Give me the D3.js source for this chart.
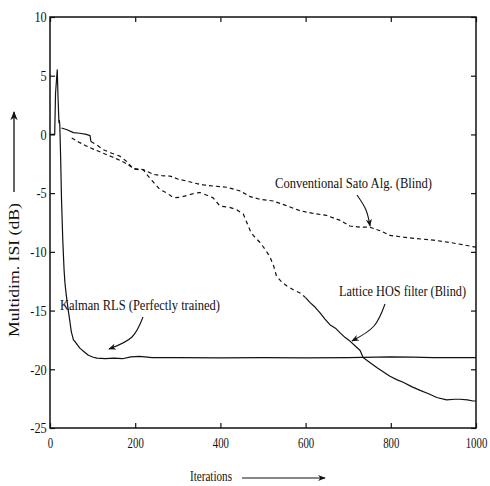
<!DOCTYPE html>
<html>
<head>
<meta charset="utf-8">
<script src="https://cdn.jsdelivr.net/npm/d3@7"></script>
<style>
  html, body { margin: 0; padding: 0; background: #fff; }
  svg { display: block; }
  text { font-family: "Liberation Serif", "DejaVu Serif", serif; fill: #111; }
</style>
</head>
<body>
<svg id="chart" width="490" height="486"></svg>
<script>
// Iteration ticks and ISI ticks (dB)
const xTicks = [0, 200, 400, 600, 800, 1000];
const yTicks = [10, 5, 0, -5, -10, -15, -20, -25];

// Kalman RLS (perfectly trained): [iteration, ISI dB]
const kalman = [
  [0, 0], [11, 0], [13, 3.5], [17, 5.5], [19, 3], [21, 1], [22, 1.2], [23, 0.8],
  [25, -2], [27, -5.5], [30, -9], [33, -11.5], [35, -12.6], [37, -13.3], [40, -14.2],
  [43, -15], [47, -16], [50, -16.8], [55, -17.5], [60, -17.7], [70, -18.2], [80, -18.5],
  [90, -18.8], [100, -18.95], [110, -19.05], [130, -19.1], [150, -19.05], [170, -19.1],
  [190, -18.95], [210, -18.9], [240, -19.0], [300, -19.0], [400, -19.02], [500, -19.0],
  [600, -19.02], [700, -19.0], [800, -18.95], [850, -18.97], [900, -19.0], [1000, -19.0]
];

// Conventional Sato algorithm (blind)
const sato = [
  [51, -0.3], [70, -0.7], [86, -1.0], [105, -1.3], [125, -1.6], [145, -1.9], [164, -2.2],
  [180, -2.5], [196, -2.9], [219, -3.0], [243, -3.4], [262, -3.5], [282, -3.55], [300, -3.8],
  [321, -3.97], [340, -4.15], [360, -4.3], [385, -4.4], [415, -4.5], [445, -4.8], [470, -5.3],
  [490, -5.5], [524, -5.67], [550, -6.0], [587, -6.5], [615, -6.7], [649, -6.9], [680, -7.3],
  [704, -7.8], [730, -7.9], [751, -7.9], [775, -8.2], [798, -8.6], [830, -8.75], [861, -8.87],
  [900, -9.0], [939, -9.2], [970, -9.4], [992, -9.55], [1000, -9.6]
];

// Lattice HOS filter (blind)
const lattice = [
  [27, 0.55], [40, 0.4], [55, 0.15], [70, 0.1], [85, 0.0], [94, -0.1], [96, -0.6],
  [110, -0.9], [125, -1.3], [145, -1.6], [164, -1.85], [180, -2.3], [196, -2.95], [210, -3.0],
  [219, -3.0], [227, -3.4], [258, -4.7], [275, -5.0], [290, -5.4], [305, -5.35], [321, -5.2],
  [340, -5.0], [352, -4.95], [370, -5.2], [383, -5.4], [399, -6.1], [420, -6.2], [438, -6.4],
  [454, -6.8], [462, -7.5], [470, -8.2], [477, -8.6], [493, -9.2], [505, -9.8], [516, -10.4],
  [525, -11.2], [532, -12.1], [545, -12.6], [556, -12.9], [570, -13.2], [587, -13.5],
  [600, -13.9], [610, -14.3], [622, -14.7], [634, -15.2], [645, -15.7], [657, -16.2],
  [670, -16.5], [681, -16.9], [693, -17.3], [704, -17.6], [716, -18.0], [728, -18.4],
  [735, -19.0], [750, -19.4], [767, -19.85], [782, -20.2], [798, -20.6], [815, -20.9],
  [829, -21.1], [850, -21.5], [869, -21.8], [890, -22.1], [908, -22.4], [931, -22.6],
  [950, -22.55], [962, -22.55], [980, -22.6], [993, -22.7], [1000, -22.7]
];
// the lattice trace is dashed between these iterations, solid elsewhere
const latticeDashFrom = 96, latticeDashTo = 590;

const svg = d3.select("#chart");
const mLeft = 50, mRight = 476, mTop = 17, mBottom = 428;

const x = d3.scaleLinear().domain([0, 1000]).range([mLeft, mRight]);
const y = d3.scaleLinear().domain([-25, 10]).range([mBottom, mTop]);

const line = d3.line().x(d => x(d[0])).y(d => y(d[1]));

// axes with inward ticks on all four sides
const gB = svg.append("g").attr("transform", `translate(0,${mBottom})`)
  .call(d3.axisBottom(x).tickValues(xTicks).tickFormat(d3.format("d"))
    .tickSizeInner(-5).tickSizeOuter(0).tickPadding(9));
const gL = svg.append("g").attr("transform", `translate(${mLeft},0)`)
  .call(d3.axisLeft(y).tickValues(yTicks).tickFormat(d => String(d))
    .tickSizeInner(-5).tickSizeOuter(0).tickPadding(4));
const gT = svg.append("g").attr("transform", `translate(0,${mTop})`)
  .call(d3.axisTop(x).tickValues(xTicks).tickSizeInner(-5).tickSizeOuter(0).tickFormat(""));
const gR = svg.append("g").attr("transform", `translate(${mRight},0)`)
  .call(d3.axisRight(y).tickValues(yTicks).tickSizeInner(-5).tickSizeOuter(0).tickFormat(""));

[gB, gL, gT, gR].forEach(g => {
  g.select(".domain").remove();
  g.selectAll(".tick line").attr("stroke", "#111").attr("stroke-width", 1.2);
});
gB.selectAll("text").attr("font-size", 15).attr("font-family", "Liberation Serif")
  .attr("fill", "#111").attr("transform", "scale(0.72,1)");
gL.selectAll("text").attr("font-size", 15).attr("font-family", "Liberation Serif")
  .attr("fill", "#111").attr("transform", "scale(0.82,1)");

// frame
svg.append("rect").attr("x", mLeft).attr("y", mTop)
  .attr("width", mRight - mLeft).attr("height", mBottom - mTop)
  .attr("fill", "none").attr("stroke", "#111").attr("stroke-width", 1.5);

// curves
const curves = svg.append("g").attr("fill", "none").attr("stroke", "#111")
  .attr("stroke-width", 1.2).attr("stroke-linejoin", "round");

curves.append("path").attr("d", line(kalman));
curves.append("path").attr("d", line(sato)).attr("stroke-dasharray", "4,3");
curves.append("path").attr("d", line(lattice.filter(d => d[0] <= latticeDashFrom)));
curves.append("path")
  .attr("d", line(lattice.filter(d => d[0] >= latticeDashFrom && d[0] <= latticeDashTo + 10)))
  .attr("stroke-dasharray", "4,3.5");
curves.append("path").attr("d", line(lattice.filter(d => d[0] >= latticeDashTo)));

// arrowhead marker
svg.append("defs").append("marker")
  .attr("id", "head").attr("viewBox", "0 0 10 10").attr("refX", 9).attr("refY", 5)
  .attr("markerWidth", 7).attr("markerHeight", 7).attr("orient", "auto-start-reverse")
  .append("path").attr("d", "M0,1 L10,5 L0,9 L3,5 Z").attr("fill", "#111");

// condensed serif text helper
function label(txt, tx, ty, size, width, opts = {}) {
  const t = svg.append("text").attr("x", tx).attr("y", ty)
    .attr("font-size", size).text(txt);
  if (width) t.attr("textLength", width).attr("lengthAdjust", "spacingAndGlyphs");
  if (opts.rotate) t.attr("transform", `rotate(${opts.rotate},${tx},${ty})`);
  if (opts.anchor) t.attr("text-anchor", opts.anchor);
  return t;
}

// curve annotations
label("Conventional Sato Alg. (Blind)", 275, 188, 15, 157);
label("Lattice HOS filter (Blind)", 339, 296, 15, 127);
label("Kalman RLS (Perfectly trained)", 60, 310, 15, 160);

const pointer = (pts) => svg.append("path")
  .attr("d", d3.line().curve(d3.curveCatmullRom)(pts))
  .attr("fill", "none").attr("stroke", "#111").attr("stroke-width", 1.1)
  .attr("marker-end", "url(#head)");

pointer([[357, 195], [366, 210], [370, 226]]);
pointer([[385, 304], [374, 326], [352, 341]]);
pointer([[143, 317], [132, 337], [109, 349]]);

// axis titles with arrows
label("Multidim. ISI (dB)", 19, 337, 15, 134, { rotate: -90 });
svg.append("path").attr("d", `M14,192 L14,112`).attr("stroke", "#111")
  .attr("stroke-width", 1.3).attr("marker-end", "url(#head)");

label("Iterations", 190, 481, 15, 42);
svg.append("path").attr("d", `M242,478 L325,478`).attr("stroke", "#111")
  .attr("stroke-width", 1.1).attr("marker-end", "url(#head)");
</script>
</body>
</html>
